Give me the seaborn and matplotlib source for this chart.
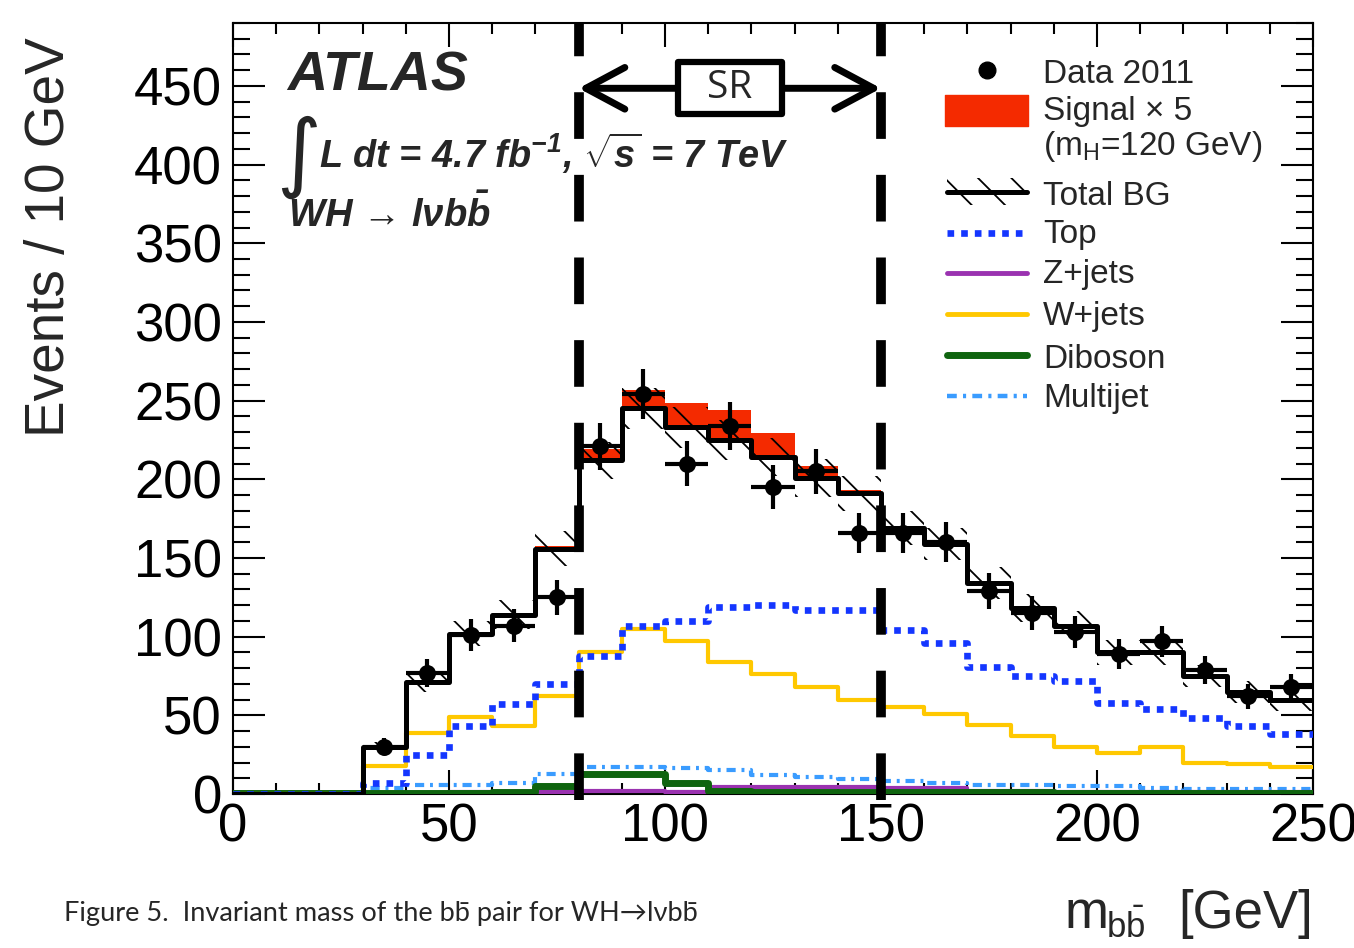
import numpy as np
import pandas as pd
import matplotlib
matplotlib.use("Agg")
import matplotlib.pyplot as plt
import seaborn as sns
from matplotlib.patches import Rectangle, FancyArrowPatch, ArrowStyle
from matplotlib.ticker import MultipleLocator

# ---------------- data (10 GeV bins 0-250) ----------------
bin_edges = [0, 10, 20, 30, 40, 50, 60, 70, 80, 90, 100, 110, 120, 130, 140, 150,
             160, 170, 180, 190, 200, 210, 220, 230, 240, 250]
total_bg = [0, 0, 0, 30, 71, 102, 114, 156, 212, 245, 233, 225, 214, 201, 191, 169,
            159, 134, 118, 107, 90, 90, 75, 65, 60]
total_bg_err = [0, 0, 0, 3, 6, 8, 9, 11, 12, 13, 13, 13, 12, 12, 11, 11,
                10, 10, 9, 9, 8, 8, 7, 7, 7]
signal_x5 = [0, 0, 0, 0, 0, 0, 0.5, 1.5, 7, 12, 15.5, 19, 15.5, 7.5, 2, 0.5,
             0, 0, 0, 0, 0, 0, 0, 0, 0]
top = [0, 0, 0, 7, 25, 43, 57, 70, 88, 107, 110, 119, 120, 117, 117, 104,
       96, 81, 75, 72, 58, 54, 48, 43, 38]
zjets = [0, 0, 0, 0.5, 0.5, 1, 1, 1.5, 2, 2, 1, 4.5, 4.5, 4.5, 4.5, 4,
         3.5, 2, 2, 1.5, 1.5, 1, 1, 1, 1]
wjets = [0, 0, 0, 18, 39, 49, 43, 62, 90, 105, 97, 84, 76, 68, 60, 55,
         51, 44, 37, 30, 26, 30, 19.5, 19, 17]
diboson = [0.5, 0.5, 0.5, 0.5, 0.5, 0.5, 1, 5, 13, 13, 7, 2, 1.5, 1.5, 1.5, 1,
           1, 1, 1, 0.5, 0.5, 0.5, 0.5, 0.5, 0.5]
multijet = [0.5, 0.5, 0.5, 4, 6, 6, 7, 13, 17, 17, 16.5, 15, 12, 11, 9.5, 8,
            7, 6, 6, 5, 5, 4, 3, 3, 3]
data_2011 = [0, 0, 0, 30, 77, 101, 107, 125, 221, 254, 210, 234, 195, 205, 166, 166,
             160, 129, 115, 103, 89, 97, 79, 62, 68]

x_ticks = [0, 50, 100, 150, 200, 250]
y_ticks = [0, 50, 100, 150, 200, 250, 300, 350, 400, 450]
sr_window = [80, 150]

# ---------------- style ----------------
sns.set_style("ticks")
plt.rcParams["font.family"] = ["Liberation Sans", "DejaVu Sans"]
plt.rcParams["mathtext.fontset"] = "custom"
plt.rcParams["mathtext.rm"] = "Liberation Sans:italic:bold"
plt.rcParams["mathtext.it"] = "Liberation Sans:italic:bold"
plt.rcParams["mathtext.bf"] = "Liberation Sans:bold"
plt.rcParams["mathtext.sf"] = "Liberation Sans"
plt.rcParams["hatch.color"] = "black"
plt.rcParams["hatch.linewidth"] = 1.3

RED = "#f42a00"
BLUE = "#1436ff"
YELLOW = "#ffc800"
PURPLE = "#9a32b0"
GREEN = "#0f640f"
LIGHTBLUE = "#3a9cff"

edges = np.array(bin_edges, dtype=float)
centers = edges[:-1] + np.diff(edges) / 2
bg = np.array(total_bg, dtype=float)
bg_err = np.array(total_bg_err, dtype=float)
sig = np.array(signal_x5, dtype=float)
dat = np.array(data_2011, dtype=float)

fig = plt.figure(figsize=(13.54, 9.48), dpi=100)
ax = fig.add_axes([0.17208, 0.16245, 0.79764, 0.81329])

# signal x5 stacked on top of the total background
ext = lambda a: np.append(a, a[-1])
ax.fill_between(edges, ext(bg), ext(bg + sig), step="post", color=RED,
                linewidth=0, zorder=2)
# total background uncertainty band (hatched)
band_lo = np.where(bg > 0, bg - bg_err, 0)
band_hi = np.where(bg > 0, bg + bg_err, 0)
ax.fill_between(edges, ext(band_lo), ext(band_hi), step="post", facecolor="none",
                edgecolor="black", hatch="\\", linewidth=0, zorder=3)


def step(values, **kw):
    df = pd.DataFrame({"mbb": centers, "events": np.asarray(values, dtype=float)})
    sns.histplot(data=df, x="mbb", weights="events", bins=list(bin_edges),
                 element="step", fill=False, ax=ax, **kw)


step(multijet, color=LIGHTBLUE, linewidth=3, linestyle=(0, (2.2, 1.4, 0.7, 1.4)), zorder=4)
step(zjets, color=PURPLE, linewidth=3, zorder=4)
step(diboson, color=GREEN, linewidth=5, zorder=4.2)
step(wjets, color=YELLOW, linewidth=3, zorder=4.3)
step(top, color=BLUE, linewidth=4.8, linestyle=(0, (1, 1.05)), zorder=4.4)
step(total_bg, color="black", linewidth=3.6, zorder=5)

# data points with errors
m = dat > 0
ax.errorbar(centers[m], dat[m], yerr=np.sqrt(dat[m]), xerr=5, fmt="none",
            ecolor="black", elinewidth=3, capsize=0, zorder=6)
sns.scatterplot(x=centers[m], y=dat[m], color="black", s=150, edgecolor="black",
                linewidth=0, ax=ax, zorder=6.5, legend=False)

# ---------------- axes ----------------
ax.set_xlim(0, 250)
ax.set_ylim(0, 490)
ax.set_xlabel("")
ax.set_ylabel("")
ax.set_xticks(x_ticks)
ax.set_yticks(y_ticks)
ax.xaxis.set_minor_locator(MultipleLocator(10))
ax.yaxis.set_minor_locator(MultipleLocator(10))
ax.tick_params(which="both", direction="in", top=True, right=True, width=1.5,
               color="black", labelcolor="black")
ax.tick_params(axis="x", which="major", length=17, pad=6, labelsize=38)
ax.tick_params(axis="x", which="minor", length=8)
ax.tick_params(axis="y", which="major", length=23, pad=8, labelsize=38)
ax.tick_params(axis="y", which="minor", length=12)
for s in ax.spines.values():
    s.set_linewidth(1.5)
    s.set_color("black")
    s.set_visible(True)

# signal-region dashed lines
for xv in sr_window:
    ax.plot([xv, xv], [-4, 490], color="black", linewidth=7,
            linestyle=(0, (4.8, 3.7)), dash_capstyle="butt", clip_on=False, zorder=7)

# SR arrow and box
arr = FancyArrowPatch((sr_window[0], 448.5), (sr_window[1], 448.5),
                      arrowstyle=ArrowStyle("<->", head_length=2.8, head_width=1.5),
                      mutation_scale=10, linewidth=5, color="black",
                      shrinkA=0, shrinkB=0, zorder=8)
ax.add_patch(arr)
ax.add_patch(Rectangle((103.1, 432.2), 23.9, 33.1, facecolor="white",
                       edgecolor="black", linewidth=4.5, joinstyle="round", zorder=9))
ax.text(115.0, 449, "SR", fontsize=28, family=["Open Sans", "DejaVu Sans"],
        ha="center", va="center", zorder=10)

# ---------------- ATLAS labels ----------------
ax.text(0.0500, 0.913, "ATLAS", transform=ax.transAxes, fontsize=40,
        fontweight="bold", fontstyle="italic", ha="left", va="baseline")
ax.text(0.040, 0.795, "\u222b", transform=ax.transAxes, fontsize=62,
        family=["DejaVu Sans"], ha="left", va="baseline")
ax.text(0.0800, 0.812, "L dt = 4.7 fb$^{-1}$, $\\sqrt{s}$ = 7 TeV",
        transform=ax.transAxes, fontsize=27.3, fontweight="bold", fontstyle="italic",
        ha="left", va="baseline")
ax.text(0.0509, 0.736, "WH \u2192 l\u03bdb$\\bar{b}$", transform=ax.transAxes,
        fontsize=27.5, fontweight="bold", fontstyle="italic", ha="left", va="baseline")

# ---------------- legend (drawn by hand in axes fraction) ----------------
lx0, lx1, lxc, ltx = 0.661, 0.735, 0.698, 0.750
T = ax.transAxes
ax.plot([lxc], [0.939], "o", color="black", markersize=12, transform=T, clip_on=False)
ax.text(ltx, 0.9222, "Data 2011", transform=T, fontsize=24, va="baseline")
ax.add_patch(Rectangle((lx0 - 0.002, 0.8664), 0.077, 0.0402, transform=T,
                       facecolor=RED, edgecolor=RED, linewidth=1, joinstyle="round",
                       clip_on=False))
ax.text(ltx, 0.8742, "Signal \u00d7 5", transform=T, fontsize=24, va="baseline")
ax.text(ltx, 0.8288, r"(m$_{\mathsf{H}}$=120 GeV)", transform=T, fontsize=24,
        va="baseline")
ax.add_patch(Rectangle((lx0, 0.764), lx1 - lx0, 0.035, transform=T, facecolor="none",
                       edgecolor="black", hatch="\\", linewidth=0, clip_on=False))
ax.plot([lx0, lx1], [0.7808, 0.7808], color="black", linewidth=3.6, transform=T,
        clip_on=False)
ax.text(ltx, 0.7639, "Total BG", transform=T, fontsize=24, va="baseline")
legend_lines = [
    ("Top", BLUE, 4.8, (0, (1, 1.05)), 0.7276, 0.7147),
    ("Z+jets", PURPLE, 3.5, "-", 0.6757, 0.6628),
    ("W+jets", YELLOW, 3.5, "-", 0.6226, 0.6083),
    ("Diboson", GREEN, 5, "-", 0.5694, 0.5525),
    ("Multijet", LIGHTBLUE, 3.2, (0, (2.2, 1.4, 0.7, 1.4)), 0.5162, 0.5019),
]
for lab, col, lw, ls, ysym, ytxt in legend_lines:
    ax.plot([lx0, lx1], [ysym, ysym], color=col, linewidth=lw, linestyle=ls,
            dash_capstyle="butt", transform=T, clip_on=False)
    ax.text(ltx, ytxt, lab, transform=T, fontsize=24, va="baseline")

# ---------------- axis titles and caption ----------------
fig.text(50 / 1354, 1 - 237 / 948, "Events / 10 GeV", rotation=90, fontsize=39.5,
         ha="center", va="center")
fig.text(1065 / 1354, 1 - 928 / 948, "m", ha="left", va="baseline", fontsize=38)
fig.text(1106 / 1354, 1 - 938 / 948, r"$\mathsf{b\bar{b}}$", ha="left",
         va="baseline", fontsize=25)
fig.text(1313 / 1354, 1 - 928 / 948, "[GeV]", ha="right", va="baseline", fontsize=38)
fig.text(64 / 1354, 1 - 921 / 948,
         "Figure 5.  Invariant mass of the bb\u0304 pair for WH\u2192l\u03bdbb\u0304",
         fontsize=19.6, family=["Lato", "DejaVu Sans"], ha="left", va="baseline")

fig.savefig("out.png", dpi=100)
